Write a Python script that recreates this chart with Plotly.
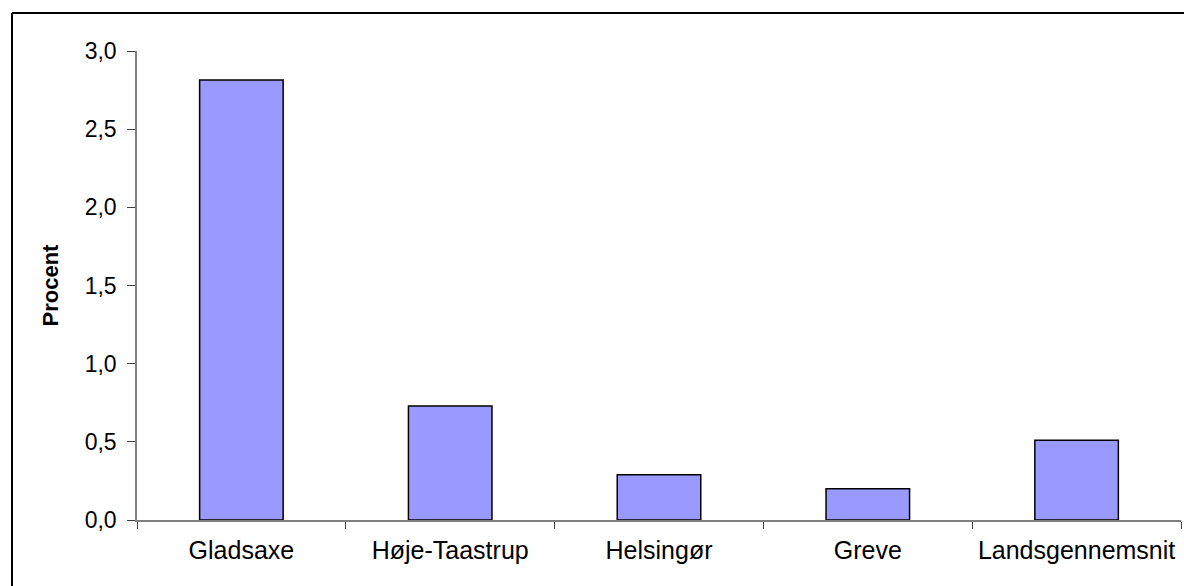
import plotly.graph_objects as go

categories = ["Gladsaxe", "Høje-Taastrup", "Helsingør", "Greve", "Landsgennemsnit"]
values = [2.815, 0.73, 0.29, 0.20, 0.51]
y_ticks = [0, 0.5, 1.0, 1.5, 2.0, 2.5, 3.0]
y_labels = ["0,0", "0,5", "1,0", "1,5", "2,0", "2,5", "3,0"]

W, H = 1184, 586
L, R, T, B = 137, 3, 51, 66
pw, ph = W - L - R, H - T - B

fig = go.Figure(go.Bar(
    x=categories, y=values, width=0.4,
    marker=dict(color="#9999FF", line=dict(color="#000000", width=1.5)),
))

fig.update_layout(
    width=W, height=H,
    margin=dict(l=L, r=R, t=T, b=B),
    paper_bgcolor="white", plot_bgcolor="white",
    font=dict(family="Liberation Sans, Arial, sans-serif", color="black"),
    showlegend=False,
    bargap=0.6,
)
fig.update_xaxes(
    showline=True, linecolor="#808080", linewidth=1.5,
    ticks="outside", ticklen=7, tickcolor="#404040", tickwidth=1,
    tickson="boundaries", showgrid=False,
    tickfont=dict(size=25), ticklabelstandoff=7, range=[-0.5, 4.5],
)
fig.update_yaxes(
    range=[0, 3.0], tickvals=y_ticks, ticktext=y_labels,
    showline=True, linecolor="#808080", linewidth=1.5,
    ticks="outside", ticklen=8, tickcolor="#404040", tickwidth=1,
    showgrid=False, zeroline=False,
    tickfont=dict(size=23), ticklabelstandoff=6,
    title=dict(text="<b>Procent</b>", font=dict(size=22), standoff=20),
)

# outer frame of the chart area: only left and top edges are visible
fx0 = (12 - L) / pw
fy1 = 1 + (T - 13) / ph
fig.add_shape(type="line", xref="paper", yref="paper",
              x0=fx0, x1=fx0, y0=-(B + 20) / ph, y1=fy1,
              line=dict(color="#000000", width=2), layer="below")
fig.add_shape(type="line", xref="paper", yref="paper",
              x0=fx0, x1=1.1, y0=fy1, y1=fy1,
              line=dict(color="#000000", width=2), layer="below")

fig.write_html(
    "out.html",
    config={"displayModeBar": False},
    post_script="document.body.style.margin='0';document.body.style.overflow='hidden';",
)
